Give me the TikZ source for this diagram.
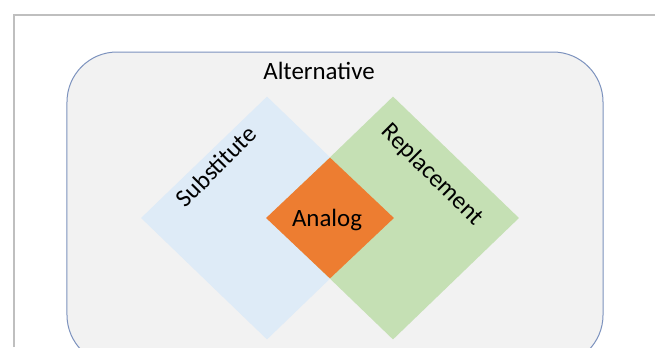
\documentclass[tikz,border=0pt]{standalone}
\usepackage{fontspec}
\setmainfont{Carlito}
\usetikzlibrary{shapes.geometric, positioning}

\definecolor{framegray}{RGB}{191,191,191}
\definecolor{altfill}{RGB}{242,242,242}
\definecolor{altline}{RGB}{124,146,190}
\definecolor{subblue}{RGB}{222,235,247}
\definecolor{repgreen}{RGB}{197,224,180}
\definecolor{anaorange}{RGB}{237,125,49}

\begin{document}
\begin{tikzpicture}[
    x=1bp, y=-1bp,
    txt/.style={font=\fontsize{25}{30}\selectfont, text=black, inner sep=0pt},
    dia/.style={diamond, inner sep=0pt, minimum width=252bp, minimum height=243bp}
]
    \clip (0,0) rectangle (655,347);
    \fill[white] (0,0) rectangle (655,347);

    % page frame
    \draw[framegray, line width=1.5bp] (14,347) -- (14,15) -- (655,15);

    % outer set
    \node[draw=altline, fill=altfill, line width=1bp, rounded corners=50bp,
          minimum width=536bp, minimum height=313bp] (alt) at (335,208.5) {};
    \node[txt] (altlbl) at (319,71) {Alternative};

    % the two overlapping sets
    \node[dia, fill=subblue] (sub) at (267,218) {};
    \node[dia, fill=repgreen] (rep) at (393,218) {};
    \node[diamond, fill=anaorange, inner sep=0pt, minimum width=128bp,
          minimum height=121bp] (ana) at (330,218) {};
    \node[txt] (analbl) at (327,220) {Analog};

    \node[txt, rotate=45] (sublbl) at (216,166) {Substitute};
    \node[txt, rotate=-45] (replbl) at (432,175) {Replacement};
\end{tikzpicture}
\end{document}
